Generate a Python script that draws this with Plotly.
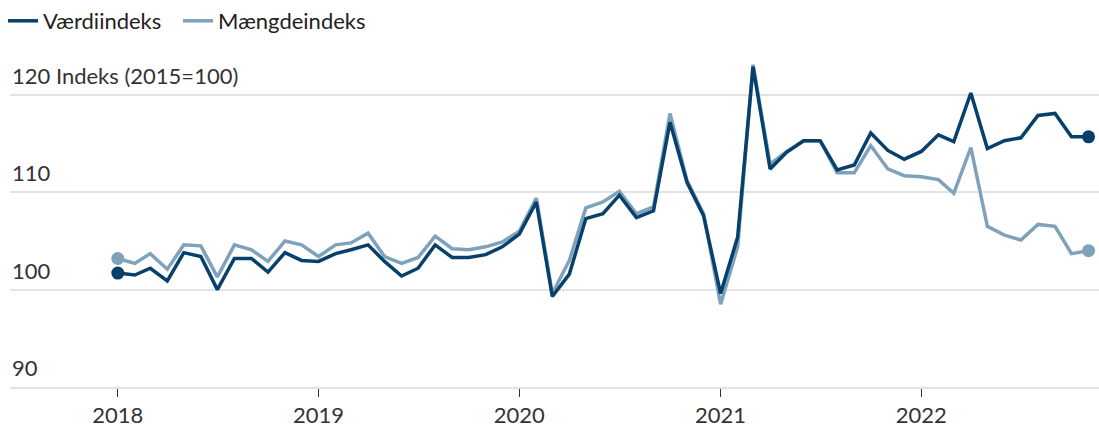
import pandas as pd
import plotly.graph_objects as go

months = pd.date_range("2018-01-01", periods=59, freq="MS")

vaerdi = [101.7, 101.5, 102.2, 100.9, 103.8, 103.4, 100.0, 103.2, 103.2, 101.8, 103.8, 103.0,
          102.9, 103.7, 104.1, 104.6, 102.9, 101.4, 102.2, 104.6, 103.3, 103.3, 103.6, 104.4,
          105.7, 109.0, 99.3, 101.6, 107.3, 107.8, 109.7, 107.4, 108.1, 117.2, 111.0, 107.6,
          99.6, 105.4, 122.9, 112.4, 114.1, 115.3, 115.3, 112.3, 112.8, 116.1, 114.3, 113.4,
          114.2, 115.9, 115.2, 120.2, 114.5, 115.3, 115.6, 117.9, 118.1, 115.7, 115.7]

maengde = [103.2, 102.7, 103.7, 102.1, 104.6, 104.5, 101.3, 104.6, 104.1, 102.9, 105.0, 104.6,
           103.4, 104.6, 104.8, 105.8, 103.4, 102.7, 103.3, 105.5, 104.2, 104.1, 104.4, 104.9,
           106.0, 109.4, 99.6, 103.0, 108.4, 109.0, 110.1, 107.8, 108.5, 118.1, 111.2, 107.8,
           98.5, 104.4, 123.1, 112.9, 114.2, 115.3, 115.3, 112.0, 112.0, 114.8, 112.4, 111.7,
           111.6, 111.3, 109.9, 114.6, 106.5, 105.6, 105.1, 106.7, 106.5, 103.7, 104.0]

series_names = ["Værdiindeks", "Mængdeindeks"]
y_ticks = [90, 100, 110, 120]
y_ticktext = ["90", "100", "110", "120 Indeks (2015=100)"]
x_ticks = ["2018-01-01", "2019-01-01", "2020-01-01", "2021-01-01", "2022-01-01"]
x_ticktext = ["2018", "2019", "2020", "2021", "2022"]

DARK = "#07416b"
LIGHT = "#7ea2bb"
GRID = "#e3e3e3"
FONT = "Lato"

fig = go.Figure()
# light series first so the dark one is drawn on top
fig.add_trace(go.Scatter(x=months, y=maengde, mode="lines", name=series_names[1],
                         line=dict(color=LIGHT, width=3.5), legend="legend2"))
fig.add_trace(go.Scatter(x=months, y=vaerdi, mode="lines", name=series_names[0],
                         line=dict(color=DARK, width=3.5), legend="legend"))
fig.add_trace(go.Scatter(x=[months[0], months[-1]], y=[maengde[0], maengde[-1]], mode="markers",
                         marker=dict(color=LIGHT, size=13), showlegend=False))
fig.add_trace(go.Scatter(x=[months[0], months[-1]], y=[vaerdi[0], vaerdi[-1]], mode="markers",
                         marker=dict(color=DARK, size=13), showlegend=False))

for v, t in zip(y_ticks, y_ticktext):
    fig.add_annotation(x=0, xref="paper", y=v, yref="y", text=t, showarrow=False,
                       xanchor="left", yanchor="bottom", xshift=0, yshift=4,
                       font=dict(family=FONT, size=22, color="#333333"))

legend_common = dict(orientation="h", xref="container", yref="container", y=1.0,
                     xanchor="left", yanchor="top", font=dict(size=22, color="#222222"),
                     bgcolor="rgba(0,0,0,0)")

fig.update_layout(
    width=1099, height=437,
    margin=dict(l=10, r=0, t=56, b=50),
    paper_bgcolor="white", plot_bgcolor="white",
    font=dict(family=FONT, size=22, color="#222222"),
    showlegend=True,
    legend=dict(x=0.0027, **legend_common),
    legend2=dict(x=0.162, **legend_common),
    xaxis=dict(range=["2017-06-19", "2022-11-20"], tickvals=x_ticks, ticktext=x_ticktext,
               showgrid=False, zeroline=False, showline=True, linecolor=GRID, linewidth=1.5,
               ticks="outside", ticklen=8, tickwidth=1.2, tickcolor="#333333",
               tickfont=dict(size=22, color="#333333")),
    yaxis=dict(range=[90, 124], tickvals=y_ticks, showticklabels=False,
               showgrid=True, gridcolor=GRID, gridwidth=1.5,
               zeroline=False, showline=False, ticks=""),
)

fig.write_html("out.html")
